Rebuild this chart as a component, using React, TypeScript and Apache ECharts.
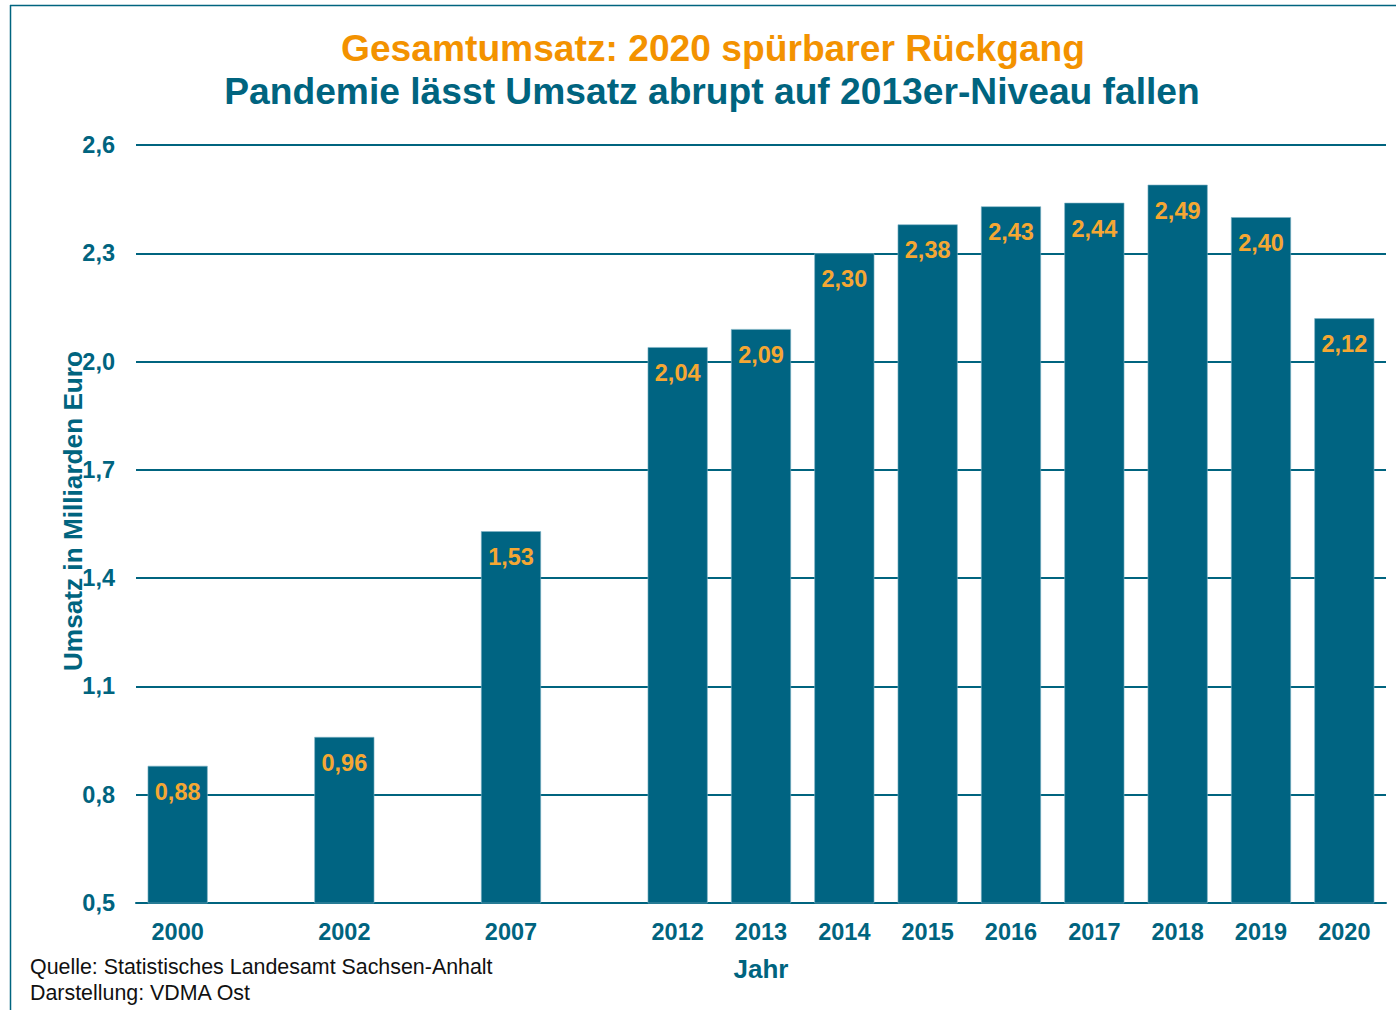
import React, { useEffect, useRef } from "react";
import * as echarts from "echarts";

const years = ["2000", "", "2002", "", "2007", "", "2012", "2013", "2014", "2015", "2016", "2017", "2018", "2019", "2020"];
const revenue: (number | null)[] = [0.88, null, 0.96, null, 1.53, null, 2.04, 2.09, 2.30, 2.38, 2.43, 2.44, 2.49, 2.40, 2.12];
const yMin = 0.5;
const yMax = 2.6;
const yStep = 0.3;

const TEAL = "#00647f";
const BAR = "#006482";
const ORANGE = "#f39200";
const LABEL_ORANGE = "#f5a733";
const FONT = "'Liberation Sans', Arial, sans-serif";

const fmt = (v: number, d: number) => v.toFixed(d).replace(".", ",");

export default function App() {
  const ref = useRef<HTMLDivElement>(null);
  useEffect(() => {
    if (!ref.current) return;
    const chart = echarts.init(ref.current, null, { renderer: "svg" });
    chart.setOption({
      animation: false,
      backgroundColor: "#ffffff",
      textStyle: { fontFamily: FONT },
      graphic: [
        { type: "line", shape: { x1: 10, y1: 5.5, x2: 1396, y2: 5.5 }, style: { stroke: TEAL, lineWidth: 1.5 } },
        { type: "line", shape: { x1: 10.5, y1: 5, x2: 10.5, y2: 1010 }, style: { stroke: TEAL, lineWidth: 1.5 } },
        {
          type: "text", x: 713, y: 48,
          style: { text: "Gesamtumsatz: 2020 spürbarer Rückgang", fill: ORANGE, font: `bold 37.2px ${FONT}`, align: "center", verticalAlign: "middle" },
        },
        {
          type: "text", x: 712, y: 91,
          style: { text: "Pandemie lässt Umsatz abrupt auf 2013er-Niveau fallen", fill: TEAL, font: `bold 37.2px ${FONT}`, align: "center", verticalAlign: "middle" },
        },
        {
          type: "text", x: 73, y: 511, rotation: Math.PI / 2,
          style: { text: "Umsatz in Milliarden Euro", fill: TEAL, font: `bold 26.2px ${FONT}`, align: "center", verticalAlign: "middle" },
        },
        {
          type: "text", x: 30, y: 967,
          style: { text: "Quelle: Statistisches Landesamt Sachsen-Anhalt", fill: "#111", font: `21.4px ${FONT}`, align: "left", verticalAlign: "middle" },
        },
        {
          type: "text", x: 30, y: 993,
          style: { text: "Darstellung: VDMA Ost", fill: "#111", font: `21.4px ${FONT}`, align: "left", verticalAlign: "middle" },
        },
      ],
      grid: { left: 136, right: 10, top: 145, bottom: 107, containLabel: false },
      xAxis: {
        type: "category",
        data: years,
        name: "Jahr",
        nameLocation: "middle",
        nameGap: 53,
        nameTextStyle: { color: TEAL, fontWeight: "bold", fontSize: 26, fontFamily: FONT },
        axisLine: { lineStyle: { color: TEAL, width: 2 } },
        axisTick: { show: false },
        axisLabel: { color: TEAL, fontWeight: "bold", fontSize: 23.5, fontFamily: FONT, margin: 17, interval: 0 },
      },
      yAxis: {
        type: "value",
        min: yMin,
        max: yMax,
        interval: yStep,
        axisLine: { show: false },
        axisTick: { show: false },
        splitLine: { lineStyle: { color: TEAL, width: 2 } },
        axisLabel: { color: TEAL, fontWeight: "bold", fontSize: 23.5, fontFamily: FONT, margin: 21, formatter: (v: number) => fmt(v, 1) },
      },
      series: [
        {
          type: "bar",
          data: revenue,
          barWidth: 60,
          itemStyle: { color: BAR, borderColor: "#7fb3c6", borderWidth: 0.6 },
          label: {
            show: true,
            position: "insideTop",
            distance: 14,
            color: LABEL_ORANGE,
            fontWeight: "bold",
            fontSize: 23.5,
            fontFamily: FONT,
            formatter: (p: any) => fmt(p.value, 2),
          },
        },
      ],
    });
    return () => chart.dispose();
  }, []);
  return <div ref={ref} style={{ width: 1396, height: 1010, position: "absolute", left: 0, top: 0 }} />;
}
